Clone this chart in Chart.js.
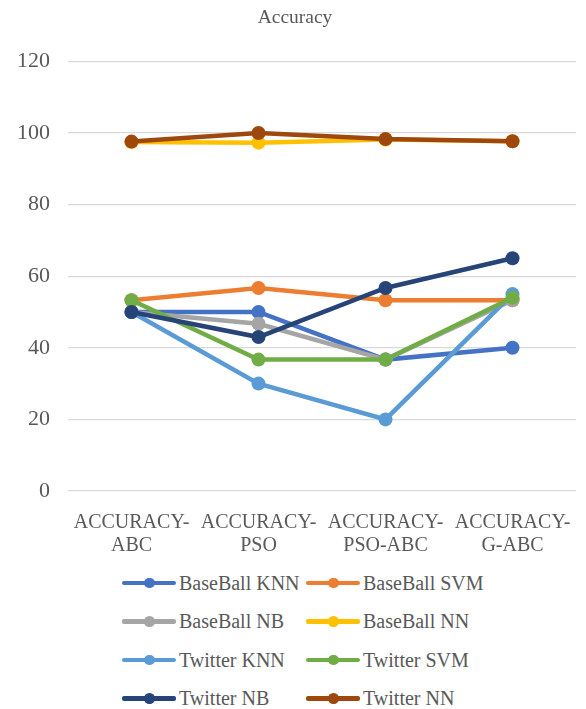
<!DOCTYPE html>
<html>
<head>
<meta charset="utf-8">
<script src="https://cdn.jsdelivr.net/npm/chart.js@4/dist/chart.umd.min.js"></script>
<style>
  html, body { margin: 0; padding: 0; background: #fff; }
  #wrap { position: relative; width: 586px; height: 709px; }
  #box { position: absolute; left: 0; top: 0; width: 586px; height: 560px; }
  #legend {
    position: absolute; left: 0; top: 564px; width: 586px;
    font-family: 'Liberation Serif', 'Times New Roman', serif;
    font-size: 20px; color: #595959;
  }
  .item { position: absolute; height: 38px; display: flex; align-items: center; white-space: nowrap; }
  .mark { position: relative; width: 54px; height: 38px; margin-right: 3px; }
  .mark .ln { position: absolute; left: 0; right: 0; top: 16.5px; height: 4.5px; border-radius: 2px; }
  .mark .dt { position: absolute; left: 22px; top: 13.5px; width: 10.5px; height: 10.5px; border-radius: 50%; }
</style>
</head>
<body>
<div id="wrap">
  <div id="box"><canvas id="c"></canvas></div>
  <div id="legend"></div>
</div>
<script>
const categories = [
  ['ACCURACY-', 'ABC'],
  ['ACCURACY-', 'PSO'],
  ['ACCURACY-', 'PSO-ABC'],
  ['ACCURACY-', 'G-ABC']
];
const seriesNames = [
  'BaseBall KNN', 'BaseBall SVM', 'BaseBall NB', 'BaseBall NN',
  'Twitter KNN', 'Twitter SVM', 'Twitter NB', 'Twitter NN'
];
const baseballKNN = [50, 50, 36.7, 40];
const baseballSVM = [53.3, 56.7, 53.3, 53.3];
const baseballNB  = [50, 46.7, 36.7, 53.3];
const baseballNN  = [97.5, 97.3, 98.2, 97.7];
const twitterKNN  = [50, 30, 20, 55];
const twitterSVM  = [53.3, 36.7, 36.7, 54];
const twitterNB   = [50, 43, 56.7, 65];
const twitterNN   = [97.6, 100, 98.3, 97.7];
const yTicks = [0, 20, 40, 60, 80, 100, 120];

const seriesValues = [baseballKNN, baseballSVM, baseballNB, baseballNN,
                      twitterKNN, twitterSVM, twitterNB, twitterNN];
const colors = ['#4472C4', '#ED7D31', '#A5A5A5', '#FFC000',
                '#5B9BD5', '#70AD47', '#264478', '#9E480E'];

const FONT = "'Liberation Serif', 'Times New Roman', serif";
const TEXT = '#595959';

function build() {
  const datasets = seriesNames.map((name, i) => ({
    label: name,
    data: seriesValues[i],
    borderColor: colors[i],
    backgroundColor: colors[i],
    borderWidth: 4.5,
    pointRadius: 7,
    pointHoverRadius: 7,
    pointBorderWidth: 0,
    tension: 0,
    // later series are painted over earlier ones
    order: seriesNames.length - i
  }));

  new Chart(document.getElementById('c'), {
    type: 'line',
    data: { labels: categories, datasets },
    options: {
      responsive: true,
      maintainAspectRatio: false,
      animation: false,
      layout: { padding: { left: 14, right: 10, top: 0, bottom: 0 } },
      plugins: {
        legend: { display: false },
        tooltip: { enabled: false },
        title: {
          display: true,
          text: 'Accuracy',
          color: TEXT,
          font: { family: FONT, size: 19.5, weight: 'normal' },
          padding: { top: 6, bottom: 32 }
        }
      },
      scales: {
        x: {
          offset: true,
          afterFit: (axis) => { axis.height = 69; },
          grid: { display: false },
          border: { display: false },
          ticks: {
            color: TEXT,
            font: { family: FONT, size: 20, lineHeight: 1.15 },
            maxRotation: 0,
            autoSkip: false,
            padding: 12
          }
        },
        y: {
          min: 0,
          max: 120,
          afterBuildTicks: (axis) => { axis.ticks = yTicks.map(v => ({ value: v })); },
          afterFit: (axis) => { axis.width = 54; },
          grid: { color: '#D9D9D9', lineWidth: 1.3, drawTicks: false },
          border: { display: false },
          ticks: {
            color: TEXT,
            font: { family: FONT, size: 22 },
            padding: 18
          }
        }
      }
    }
  });

  // Legend in two columns under the plot
  const legend = document.getElementById('legend');
  const colX = [122, 306];
  seriesNames.forEach((name, i) => {
    const item = document.createElement('div');
    item.className = 'item';
    item.style.left = colX[i % 2] + 'px';
    item.style.top = (Math.floor(i / 2) * 38.5) + 'px';
    item.innerHTML = '<div class="mark"><div class="ln" style="background:' + colors[i] +
      '"></div><div class="dt" style="background:' + colors[i] + '"></div></div><span>' + name + '</span>';
    legend.appendChild(item);
  });
}

if (document.fonts && document.fonts.load) {
  Promise.all([
    document.fonts.load("20px 'Liberation Serif'"),
    document.fonts.load("22px 'Liberation Serif'")
  ]).then(build, build);
} else {
  build();
}
</script>
</body>
</html>
